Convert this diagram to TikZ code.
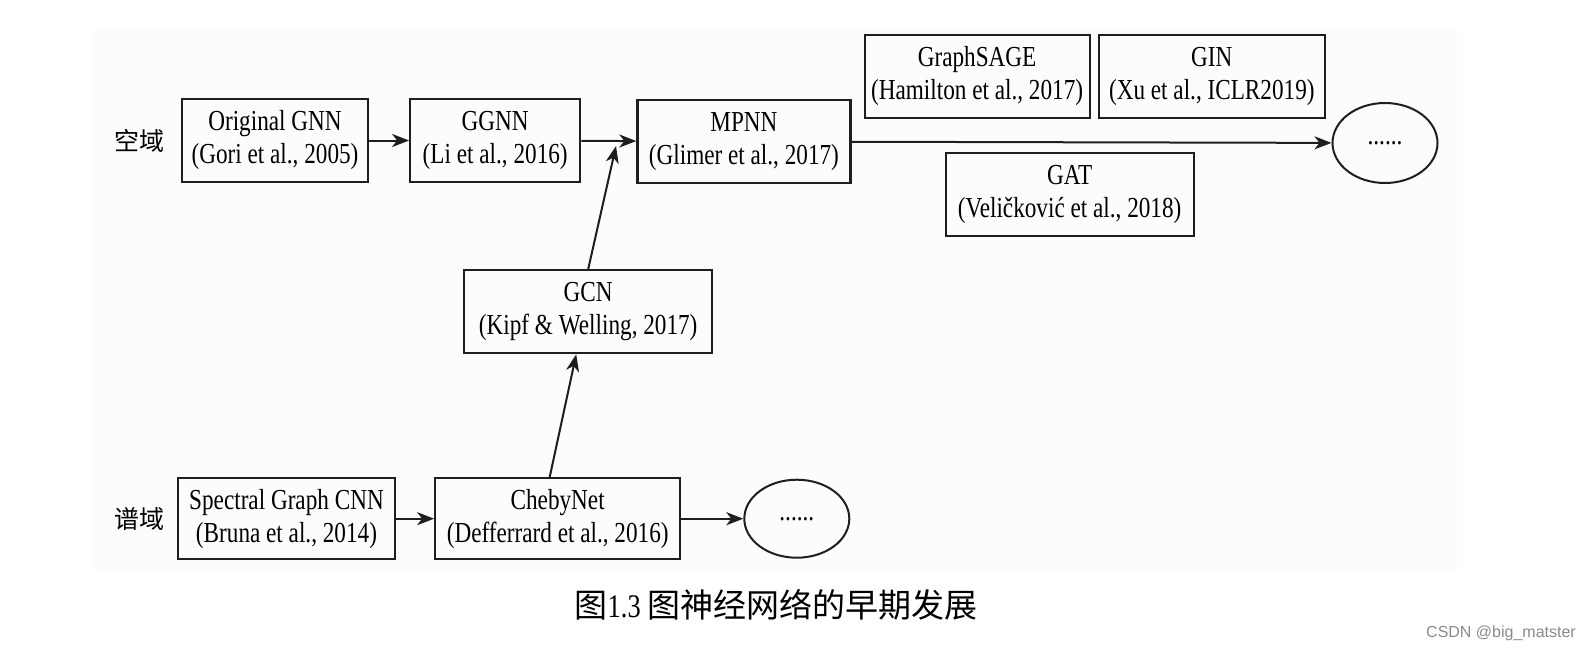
\documentclass[tikz,border=0pt]{standalone}
\usepackage{fontspec}
\setmainfont{Liberation Serif}[FakeStretch=0.8]
\newfontfamily\cjk{Noto Sans CJK SC}
\newfontfamily\wmfont{Liberation Sans}
\usetikzlibrary{positioning, arrows.meta, shapes.geometric}
\definecolor{bgpaper}{HTML}{FCFCFC}
\definecolor{inkgray}{HTML}{1E1E1E}
\definecolor{markgray}{HTML}{8A8A8A}
\tikzstyle{model} = [rectangle, minimum height=83pt, align=center, draw=inkgray, line width=2.2pt, inner sep=0pt, font=\fontsize{29}{33}\selectfont]
\tikzstyle{moredots} = [ellipse, minimum width=105pt, minimum height=80pt, inner sep=0pt, draw=inkgray, line width=2pt, font=\fontsize{29}{33}\selectfont]
\tikzstyle{domainlabel} = [inner sep=0pt, font={\cjk\fontsize{25}{30}\selectfont}]
\tikzstyle{arrow} = [line width=2pt, draw=inkgray, -{Stealth[length=17pt,width=13pt,inset=5pt]}]
\begin{document}
\begin{tikzpicture}[x=1pt, y=-1pt]
        \useasboundingbox (0,0) rectangle (1592,651);
        \fill [bgpaper] (93,30) rectangle (1457,570);

        \node (orig) [model, minimum width=186pt] at (275,140.5) {Original GNN\\(Gori et al., 2005)};
        \node (ggnn) [model, minimum width=170pt, right=40pt of orig] {GGNN\\(Li et al., 2016)};
        \node (mpnn) [model, minimum width=213pt, right=55pt of ggnn, yshift=-1pt] {MPNN\\(Glimer et al., 2017)};
        \node (sage) [model, minimum width=225pt, above right=-20pt and 12pt of mpnn] {GraphSAGE\\(Hamilton et al., 2017)};
        \node (gin) [model, minimum width=226pt, right=7pt of sage] {GIN\\(Xu et al., ICLR2019)};
        \node (gat) [model, minimum width=248pt, below right=-32pt and 93pt of mpnn] {GAT\\(Veličković et al., 2018)};
        \node (more1) [moredots, right=480pt of mpnn, yshift=-1.5pt] {......};
        \node (gcn) [model, minimum width=248pt, below=86pt of ggnn, xshift=93pt] {GCN\\(Kipf \& Welling, 2017)};
        \node (spec) [model, minimum width=217pt, minimum height=81pt, below=294pt of orig, xshift=11.5pt] {Spectral Graph CNN\\(Bruna et al., 2014)};
        \node (cheby) [model, minimum width=245pt, minimum height=81pt, right=38pt of spec] {ChebyNet\\(Defferrard et al., 2016)};
        \node (more2) [moredots, minimum height=78pt, right=62pt of cheby] {......};

        \node (spatial) [domainlabel, left=16pt of orig] {空域};
        \node (spectral) [domainlabel, left=12pt of spec] {谱域};

        \coordinate (join) at (616,146);

        \draw [arrow] (orig) -- (ggnn);
        \draw [arrow] (ggnn) -- (mpnn);
        \draw [arrow] (gcn.north) -- (join);
        \draw [arrow] (mpnn) -- (more1);
        \draw [arrow] (spec) -- (cheby);
        \draw [arrow] (cheby) -- (more2);
        \draw [arrow] ([xshift=-8pt]cheby.north) -- ([xshift=-12pt]gcn.south);

        \node (caption) at (776,605) [font=\fontsize{33}{36}\selectfont] {{\cjk 图}1.3 {\cjk 图神经网络的早期发展}};
        \node (mark) at (1501,633) [font=\wmfont\fontsize{16}{18}\selectfont, text=markgray] {CSDN @big\_matster};
\end{tikzpicture}
\end{document}
